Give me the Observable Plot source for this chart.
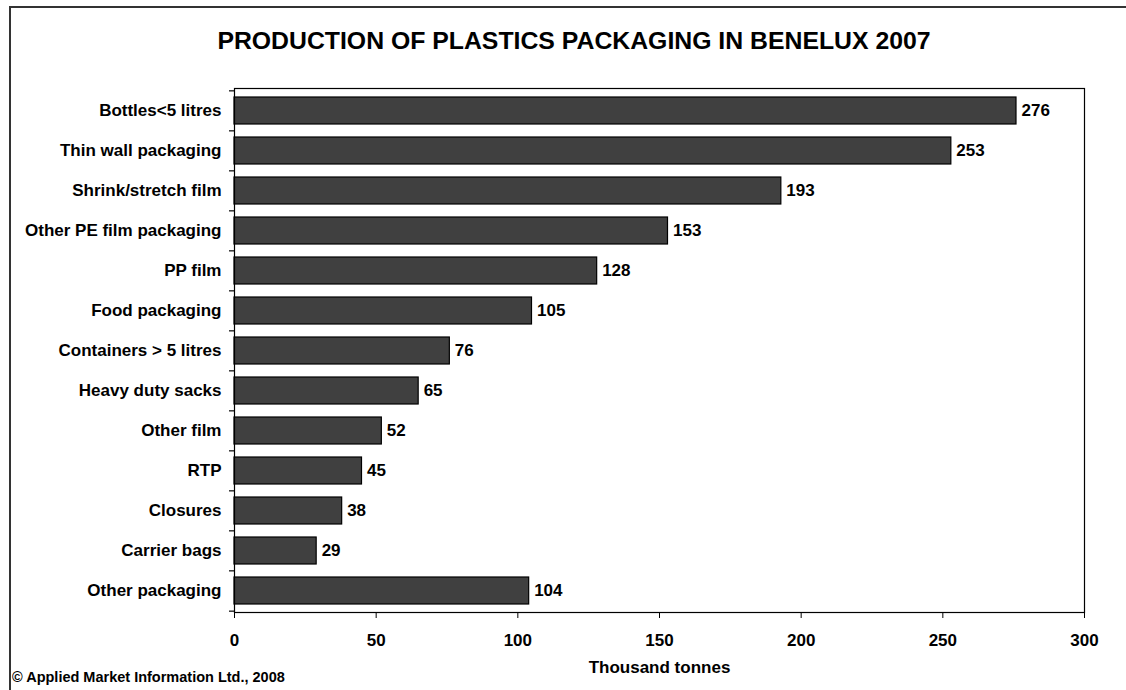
<!DOCTYPE html>
<html>
<head>
<meta charset="utf-8">
<script src="https://cdn.jsdelivr.net/npm/d3@7"></script>
<script src="https://cdn.jsdelivr.net/npm/@observablehq/plot@0.6"></script>
<style>
  html, body { margin: 0; padding: 0; background: #fff; width: 1126px; height: 690px; overflow: hidden; position: relative; }
  body { font-family: "Liberation Sans", Arial, sans-serif; font-weight: bold; color: #000; }
  #outer { position: absolute; left: 9px; top: 6px; width: 1300px; height: 900px; border-top: 2px solid #333; border-left: 2px solid #333; }
  #title { position: absolute; left: 11px; width: 1126px; top: 29px; text-align: center; font-size: 24.8px; line-height: 24px; }
  #chart { position: absolute; left: 0; top: 66px; }
  #caption { position: absolute; left: 12px; top: 670px; font-size: 14.5px; line-height: 15px; }
</style>
</head>
<body>
<div id="outer"></div>
<div id="title">PRODUCTION OF PLASTICS PACKAGING IN BENELUX 2007</div>
<div id="chart"></div>
<div id="caption">© Applied Market Information Ltd., 2008</div>
<script>
const categories = [
  "Bottles<5 litres",
  "Thin wall packaging",
  "Shrink/stretch film",
  "Other PE film packaging",
  "PP film",
  "Food packaging",
  "Containers > 5 litres",
  "Heavy duty sacks",
  "Other film",
  "RTP",
  "Closures",
  "Carrier bags",
  "Other packaging"
];
const values = [276, 253, 193, 153, 128, 105, 76, 65, 52, 45, 38, 29, 104];
const xTicks = [0, 50, 100, 150, 200, 250, 300];
const xLabel = "Thousand tonnes";

const data = categories.map((c, i) => ({category: c, value: values[i]}));

const H = 624, MT = 22, MB = 78;
const step = (H - MT - MB) / categories.length;

const chart = Plot.plot({
  width: 1126,
  height: H,
  marginLeft: 234,
  marginRight: 42,
  marginTop: MT,
  marginBottom: MB,
  style: {
    fontFamily: "'Liberation Sans', Arial, sans-serif",
    fontWeight: "bold",
    fontSize: "17px",
    color: "#000",
    background: "transparent",
    overflow: "visible"
  },
  x: {domain: [0, 300], ticks: xTicks},
  y: {domain: categories, paddingInner: 0.33, paddingOuter: 0.165},
  marks: [
    Plot.barX(data, {x: "value", y: "category", fill: "#404040", stroke: "#000", strokeWidth: 1.2}),
    Plot.frame({stroke: "#000", strokeWidth: 1.2}),
    Plot.text(data, {x: "value", y: "category", text: d => String(d.value), textAnchor: "start", dx: 5, fontWeight: "bold", fontSize: 17, fill: "#000"}),
    Plot.ruleY(categories, {y: d => d, dy: -step / 2, x1: d => 0, x2: d => 0, insetLeft: -5, stroke: "#000", strokeWidth: 1.2}),
    Plot.ruleY(categories.slice(-1), {y: d => d, dy: step / 2, x1: d => 0, x2: d => 0, insetLeft: -5, stroke: "#000", strokeWidth: 1.2}),
    Plot.axisX({ticks: xTicks, tickSize: 6, tickPadding: 15, label: xLabel, labelAnchor: "center", labelOffset: 60, labelArrow: "none", fontSize: 17, fontWeight: "bold"}),
    Plot.axisY({tickSize: 0, tickPadding: 13, label: null, fontSize: 17, fontWeight: "bold"})
  ]
});
document.getElementById("chart").appendChild(chart);
</script>
</body>
</html>
